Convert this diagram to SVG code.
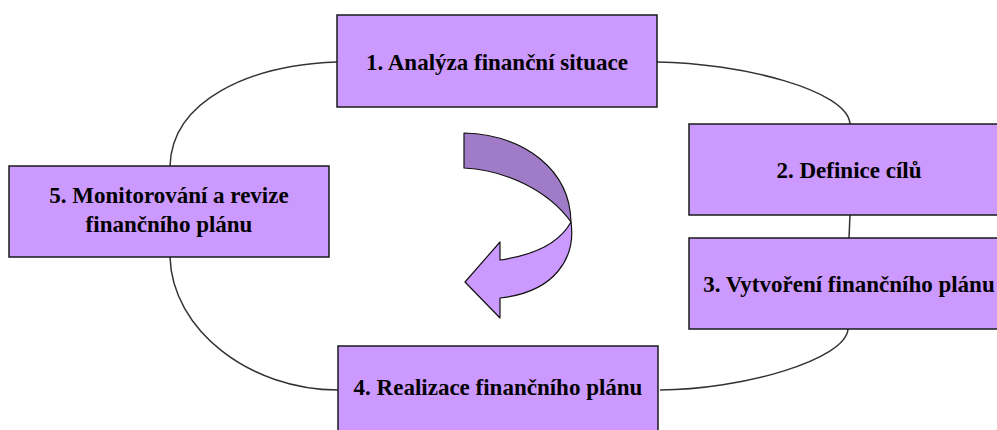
<svg xmlns="http://www.w3.org/2000/svg" width="997" height="430" viewBox="0 0 997 430">
<style>
.box{fill:#CC99FF;stroke:#1a1a1a;stroke-width:1.5}
.lbl{font-family:"Liberation Serif","Times New Roman",serif;font-weight:bold;font-size:23px;fill:#000;text-anchor:middle}
.conn{fill:none;stroke:#333;stroke-width:1.5}
.arr{stroke:#111;stroke-width:1.2;stroke-linejoin:round}
</style>
<rect width="997" height="430" fill="#fff"/>
<g id="connectors">
<path class="conn" d="M337,62 C250,65 172,100 170,166"/>
<path class="conn" d="M657,62 C740,63 848,90 850,124"/>
<path class="conn" d="M850,215 L849,238"/>
<path class="conn" d="M848,329 C846,360 740,390 660,390"/>
<path class="conn" d="M170,257 C172,330 250,390 338,390"/>
</g>
<g id="node1">
<rect class="box" x="337" y="15" width="320" height="92"/>
<text class="lbl" x="497" y="70">1. Analýza finanční situace</text>
</g>
<g id="node2">
<rect class="box" x="689" y="124" width="322" height="91"/>
<text class="lbl" x="849" y="178">2. Definice cílů</text>
</g>
<g id="node3">
<rect class="box" x="689" y="238" width="322" height="91"/>
<text class="lbl" x="849" y="292">3. Vytvoření finančního plánu</text>
</g>
<g id="node4">
<rect class="box" x="338" y="346" width="320" height="92"/>
<text class="lbl" x="498" y="395">4. Realizace finančního plánu</text>
</g>
<g id="node5">
<rect class="box" x="9" y="166" width="320" height="91"/>
<text class="lbl" x="169" y="203">5. Monitorování a revize</text>
<text class="lbl" x="169" y="232">finančního plánu</text>
</g>
<g id="cycle-arrow">
<path class="arr" fill="#A07CC8" d="M464,133 C525,135 570,170 571,222 C548,190 505,170 464,168 Z"/>
<path class="arr" fill="#CC99FF" d="M571,222 C576,258 555,292 500,298 L500,318 L465,282 L500,242 L500,260 C535,255 560,242 571,222 Z"/>
</g>
</svg>
